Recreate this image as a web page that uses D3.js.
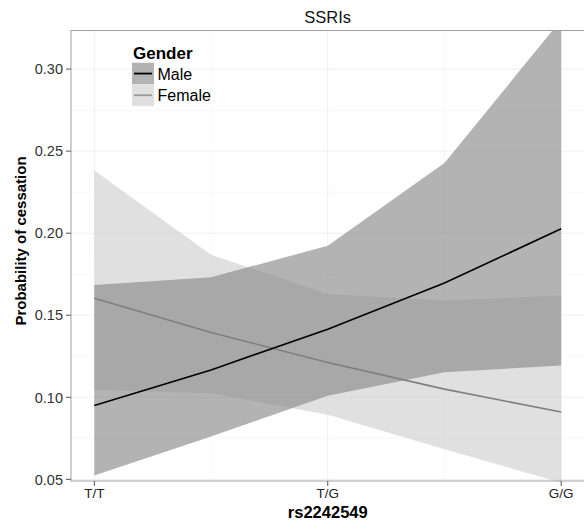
<!DOCTYPE html>
<html><head><meta charset="utf-8">
<script src="https://cdn.jsdelivr.net/npm/d3@7"></script>
<style>body{margin:0;background:#fff}svg{display:block;font-family:"Liberation Sans",Arial,sans-serif}</style>
</head><body><svg id="c" width="584" height="526"></svg>
<script>
const categories = ["T/T", "", "T/G", "", "G/G"];
const xPositions = [0, 0.5, 1, 1.5, 2];
const tickLabels = ["T/T", "T/G", "G/G"];
const tickPositions = [0, 1, 2];
const yTicks = [0.05, 0.10, 0.15, 0.20, 0.25, 0.30];
const yMinor = [0.075, 0.125, 0.175, 0.225, 0.275, 0.325];
const maleFit = [0.095, 0.1167, 0.1415, 0.1696, 0.2027];
const maleLow = [0.0523, 0.0761, 0.1009, 0.1153, 0.1194];
const maleHigh = [0.1685, 0.1732, 0.1923, 0.2427, 0.3300];
const femaleFit = [0.1604, 0.1395, 0.1212, 0.1050, 0.0910];
const femaleLow = [0.1045, 0.1025, 0.0893, 0.0684, 0.0480];
const femaleHigh = [0.2382, 0.1868, 0.1629, 0.1590, 0.1620];

const svg = d3.select("#c");
const L = 71, R = 584.5, T = 30.5, B = 481;
const x = d3.scaleLinear().domain([-0.1, 2.1]).range([L, R]);
const y = d3.scaleLinear().domain([0.049, 0.3235]).range([B, T]);

svg.append("defs").append("clipPath").attr("id","clip")
  .append("rect").attr("x",L).attr("y",T).attr("width",R-L).attr("height",B-T);

const grid = svg.append("g");
yMinor.forEach(v=>grid.append("line").attr("x1",L).attr("x2",R).attr("y1",y(v)).attr("y2",y(v)).attr("stroke","#f8f8f8"));
[0.5,1.5].forEach(v=>grid.append("line").attr("y1",T).attr("y2",B).attr("x1",x(v)).attr("x2",x(v)).attr("stroke","#f8f8f8"));
yTicks.forEach(v=>grid.append("line").attr("x1",L).attr("x2",R).attr("y1",y(v)).attr("y2",y(v)).attr("stroke","#efefef"));
tickPositions.forEach(v=>grid.append("line").attr("y1",T).attr("y2",B).attr("x1",x(v)).attr("x2",x(v)).attr("stroke","#efefef"));

const plot = svg.append("g").attr("clip-path","url(#clip)");
const area = (lo, hi) => d3.area().x((d,i)=>x(xPositions[i])).y0((d,i)=>y(lo[i])).y1((d,i)=>y(hi[i]))(xPositions);
const line = (vals) => d3.line().x((d,i)=>x(xPositions[i])).y((d,i)=>y(vals[i]))(xPositions);

plot.append("path").attr("d",area(femaleLow,femaleHigh)).attr("fill","rgb(207,207,207)").attr("fill-opacity",0.645);
plot.append("path").attr("d",area(maleLow,maleHigh)).attr("fill","rgb(137,137,137)").attr("fill-opacity",0.645);
plot.append("path").attr("d",line(femaleFit)).attr("fill","none").attr("stroke","#7f7f7f").attr("stroke-width",1.6);
plot.append("path").attr("d",line(maleFit)).attr("fill","none").attr("stroke","#000").attr("stroke-width",1.6);

// panel border
svg.append("rect").attr("x",L).attr("y",T).attr("width",R-L+2).attr("height",B-T).attr("fill","none").attr("stroke","#a0a0a0").attr("stroke-width",1);

// y axis
const ya = svg.append("g");
yTicks.forEach(v=>{
  ya.append("line").attr("x1",L-5).attr("x2",L).attr("y1",y(v)).attr("y2",y(v)).attr("stroke","#555");
  ya.append("text").attr("x",L-8).attr("y",y(v)).attr("dy","0.36em").attr("text-anchor","end")
    .attr("font-size",14.5).attr("fill","#333").text(d3.format(".2f")(v));
});
// x axis
const xa = svg.append("g");
tickPositions.forEach((v,i)=>{
  xa.append("line").attr("x1",x(v)).attr("x2",x(v)).attr("y1",B).attr("y2",B+5).attr("stroke","#555");
  xa.append("text").attr("x",x(v)).attr("y",B+17).attr("text-anchor","middle")
    .attr("font-size",13.5).attr("fill","#222").text(tickLabels[i]);
});
svg.append("text").attr("x",(L+R)/2).attr("y",518).attr("text-anchor","middle")
  .attr("font-size",16.5).attr("font-weight","bold").text("rs2242549");
svg.append("text").attr("transform",`translate(26,241) rotate(-90)`).attr("text-anchor","middle")
  .attr("font-size",15).attr("font-weight","bold").text("Probability of cessation");
svg.append("text").attr("x",(L+R)/2).attr("y",23).attr("text-anchor","middle")
  .attr("font-size",16.5).attr("fill","#111").text("SSRIs");

// legend
const lg = svg.append("g");
lg.append("text").attr("x",133).attr("y",58.5).attr("font-size",17).attr("font-weight","bold").text("Gender");
const keys = [{n:"Male",f:"rgb(137,137,137)",s:"#000"},{n:"Female",f:"rgb(207,207,207)",s:"#999"}];
keys.forEach((k,i)=>{
  const ky = 62.7 + i*21.7;
  lg.append("rect").attr("x",132).attr("y",ky).attr("width",22).attr("height",21.7).attr("fill","#fff");
  lg.append("rect").attr("x",132).attr("y",ky).attr("width",22).attr("height",21.7).attr("fill",k.f).attr("fill-opacity",0.645);
  lg.append("line").attr("x1",134).attr("x2",152).attr("y1",ky+10.85).attr("y2",ky+10.85).attr("stroke",k.s).attr("stroke-width",1.8);
  lg.append("text").attr("x",157.5).attr("y",ky+17).attr("font-size",16).text(k.n);
});
</script></body></html>
